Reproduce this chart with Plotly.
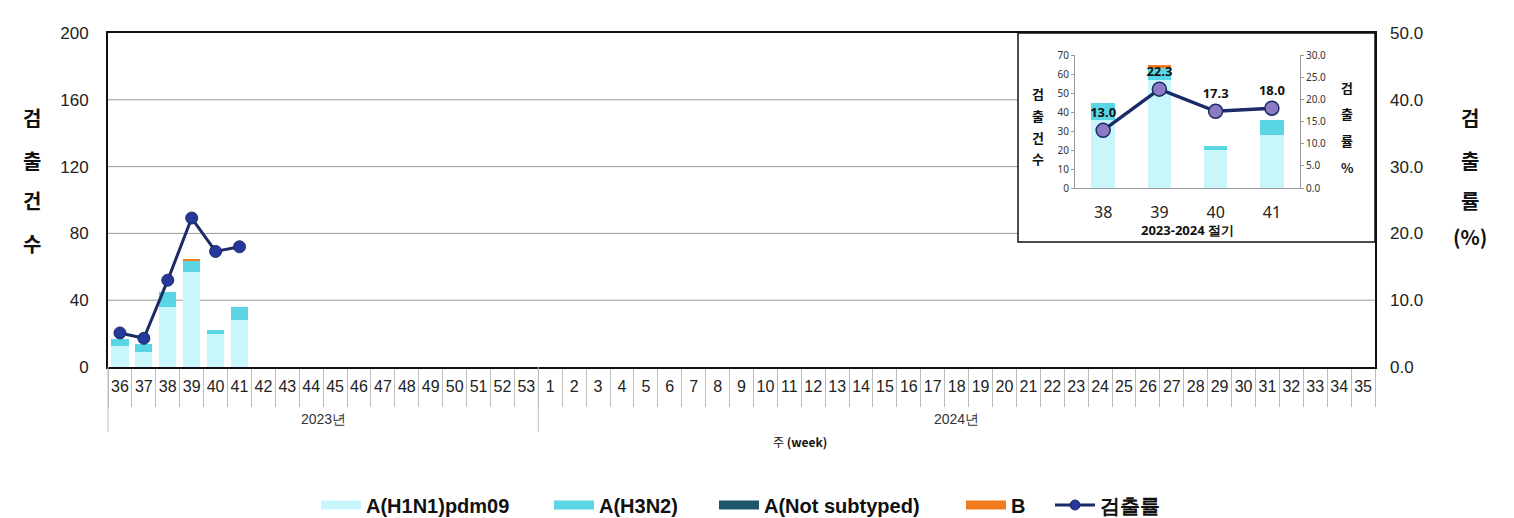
import plotly.graph_objects as go

# ---------------- data ----------------
years = ["2023년", "2024년"]
weeks_2023 = [str(w) for w in range(36, 54)]
weeks_2024 = [str(w) for w in range(1, 36)]
all_weeks = weeks_2023 + weeks_2024

data_weeks = ["36", "37", "38", "39", "40", "41"]
h1n1 = [12.5, 9, 36, 57, 20, 28]
h3n2 = [4.5, 5, 9, 6.5, 2, 8]
not_subtyped = [0, 0, 0, 0, 0, 0]
b_type = [0, 0, 0, 1, 0, 0]
rate = [5.1, 4.3, 13.0, 22.3, 17.3, 18.0]

inset_weeks = ["38", "39", "40", "41"]
inset_title = "2023-2024 절기"

series_names = ["A(H1N1)pdm09", "A(H3N2)", "A(Not subtyped)", "B"]
rate_name = "검출률"

# ---------------- styling ----------------
OFF = 8                      # page offset of the figure (body margin)
W, H = 1514 - 2 * OFF, 518 - OFF
X0, X1, Y0, Y1 = 108, 1375, 33, 367   # plot area in page pixels
ML, MT = X0 - OFF, Y0 - OFF
MR, MB = W - (X1 - OFF), H - (Y1 - OFF)


def px(xp):
    return (xp - X0) / (X1 - X0)


def py(yp):
    return (Y1 - yp) / (Y1 - Y0)


C_H1 = "#C8F6FB"
C_H3 = "#5AD5E6"
C_NS = "#1E566A"
C_B = "#F07C1E"
C_LINE = "#1B2B66"
C_MK = "#26399A"
C_MK2 = "#8C7AC4"
colors = [C_H1, C_H3, C_NS, C_B]

ARIAL = "Liberation Sans, Arial, sans-serif"
KR = "Noto Sans CJK KR, sans-serif"
INS = "Noto Sans, Liberation Sans, sans-serif"

series_vals = [h1n1, h3n2, not_subtyped, b_type]

fig = go.Figure()

# register every week category in order
fig.add_trace(go.Scatter(x=all_weeks, y=[None] * len(all_weeks), mode="lines",
                         showlegend=False, hoverinfo="skip", xaxis="x", yaxis="y"))

for name, vals, col in zip(series_names, series_vals, colors):
    fig.add_trace(go.Bar(x=data_weeks, y=vals, name=name, marker=dict(color=col, line=dict(width=0)),
                         showlegend=False, xaxis="x", yaxis="y"))

fig.add_trace(go.Scatter(x=data_weeks, y=rate, name=rate_name, mode="lines+markers",
                         line=dict(color=C_LINE, width=3),
                         marker=dict(size=12, color=C_MK, line=dict(color=C_LINE, width=1)),
                         showlegend=False, xaxis="x", yaxis="y2"))

# inset
i0 = data_weeks.index(inset_weeks[0])
i1 = i0 + len(inset_weeks)
for name, vals, col in zip(series_names, series_vals, colors):
    fig.add_trace(go.Bar(x=inset_weeks, y=vals[i0:i1], name=name, width=0.42,
                         marker=dict(color=col, line=dict(width=0)),
                         showlegend=False, xaxis="x2", yaxis="y3"))
fig.add_trace(go.Scatter(x=inset_weeks, y=rate[i0:i1], mode="lines+markers+text",
                         text=[f"{v:.1f}" for v in rate[i0:i1]], textposition="top center",
                         textfont=dict(family=INS, size=13, color="#111", weight="bold"),
                         line=dict(color=C_LINE, width=3.5),
                         marker=dict(size=14, color=C_MK2, line=dict(color=C_LINE, width=1.5)),
                         showlegend=False, xaxis="x2", yaxis="y4", cliponaxis=False))

# legend entries, one legend box each so they can be spaced like the original
legend_x = [316, 549, 714, 961, 1050]
legend_ids = ["legend", "legend2", "legend3", "legend4", "legend5"]
for name, col, lid in zip(series_names, colors, legend_ids):
    fig.add_trace(go.Scatter(x=[None], y=[None], mode="lines", name=name, legend=lid,
                             line=dict(color=col, width=9), xaxis="x2", yaxis="y3"))
fig.add_trace(go.Scatter(x=[None], y=[None], mode="lines+markers", name=rate_name, legend=legend_ids[4],
                         line=dict(color=C_LINE, width=3),
                         marker=dict(size=10, color=C_MK, line=dict(color=C_LINE, width=1)),
                         xaxis="x2", yaxis="y3"))

legend_style = dict(orientation="h", xanchor="left", y=py(505), yanchor="middle",
                    font=dict(family=ARIAL, size=20, color="#111", weight="bold"),
                    itemwidth=40, bgcolor="rgba(0,0,0,0)")
legends = {lid: dict(legend_style, x=px(lx)) for lid, lx in zip(legend_ids, legend_x)}

# ---------------- shapes ----------------
shapes = []
shapes.append(dict(type="rect", xref="paper", yref="paper", x0=px(3), x1=px(1507), y0=py(540), y1=py(4),
                   line=dict(color="#e3e3e3", width=1), layer="below"))
inset_left, inset_bottom = px(1018), py(242)
for v in [40, 80, 120, 160]:
    x1 = inset_left if v / 200 > inset_bottom else 1
    shapes.append(dict(type="line", xref="paper", yref="y", x0=0, x1=x1, y0=v, y1=v,
                       line=dict(color="#9a9a9a", width=1), layer="below"))
shapes.append(dict(type="rect", xref="paper", yref="paper", x0=inset_left, x1=1, y0=inset_bottom, y1=1,
                   line=dict(color="#111", width=1.5), fillcolor="rgba(0,0,0,0)", layer="above"))
# year group dividers
n_all = len(all_weeks)
split = len(weeks_2023) / n_all
for xv in [0, split]:
    shapes.append(dict(type="line", xref="paper", yref="paper", x0=xv, x1=xv, y0=0, y1=py(432),
                       line=dict(color="#bdbdbd", width=1)))

# ---------------- annotations ----------------
ann = []


def note(text, x, y, size, family=KR, bold=True, color="#111"):
    ann.append(dict(text=text, x=x, y=y, xref="paper", yref="paper", showarrow=False,
                    xanchor="center", yanchor="middle",
                    font=dict(family=family, size=size, color=color, weight="bold" if bold else "normal")))


def stack(chars, ys, x, size):
    for ch, y in zip(chars, ys):
        note(ch, px(x), py(y), size)


stack(["검", "출", "건", "수"], [117, 160, 200, 243], 32, 20)
stack(["검", "출", "률", "(%)"], [117, 160, 200, 237], 1470, 20)
stack(["검", "출", "건", "수"], [93, 115, 137, 158], 1038, 13)
stack(["검", "출", "률", "%"], [87, 113, 140, 167], 1347, 13)
note(inset_title, px(1187), py(230), 13, family=INS)
note("주 <b>(week)</b>", px(800), py(441), 12, bold=False)
for yr, xc in zip(years, [split / 2, (split + 1) / 2]):
    note(yr, xc, py(419), 14, family=ARIAL, bold=False, color="#333")

fig.update_layout(
    width=W, height=H,
    margin=dict(l=ML, r=MR, t=MT, b=MB, autoexpand=False),
    paper_bgcolor="white", plot_bgcolor="white",
    barmode="stack", bargap=0.28,
    shapes=shapes, annotations=ann,
    showlegend=True,
    **legends,
    xaxis=dict(domain=[0, 1], anchor="y", type="category", automargin=False,
               range=[-0.5, n_all - 0.5],
               showline=True, linecolor="#111", linewidth=2, mirror=True,
               ticks="outside", ticklen=38, tickcolor="#bdbdbd", tickwidth=1,
               tickson="boundaries", tickangle=0, ticklabelstandoff=4,
               tickfont=dict(family=ARIAL, size=16, color="#222"), showgrid=False),
    yaxis=dict(range=[0, 200], dtick=40, showgrid=False, zeroline=False, automargin=False,
               showline=True, linecolor="#111", linewidth=2, mirror=True, ticks="",
               ticklabelstandoff=14, tickfont=dict(family=ARIAL, size=17, color="#222")),
    yaxis2=dict(overlaying="y", side="right", anchor="x", range=[0, 50], dtick=10, tickformat=".1f",
                showgrid=False, zeroline=False, showline=False, ticks="", automargin=False,
                ticklabelstandoff=14, tickfont=dict(family=ARIAL, size=17, color="#222")),
    xaxis2=dict(domain=[px(1075), px(1300)], anchor="y3", type="category", automargin=False,
                showline=True, linecolor="#999", linewidth=1, ticks="", showgrid=False,
                ticklabelstandoff=10,
                tickfont=dict(family=INS, size=16, color="#222")),
    yaxis3=dict(domain=[py(188), py(55)], anchor="x2", range=[0, 70], dtick=10, automargin=False,
                showline=True, linecolor="#999", linewidth=1, ticks="outside", ticklen=3, tickcolor="#999",
                showgrid=False, zeroline=False, tickfont=dict(family=INS, size=10, color="#333")),
    yaxis4=dict(overlaying="y3", side="right", anchor="x2", range=[0, 30], dtick=5, tickformat=".1f",
                automargin=False,
                showline=True, linecolor="#999", linewidth=1, ticks="outside", ticklen=3, tickcolor="#999",
                showgrid=False, zeroline=False, tickfont=dict(family=INS, size=10, color="#333")),
)

fig.write_html("out.html")
